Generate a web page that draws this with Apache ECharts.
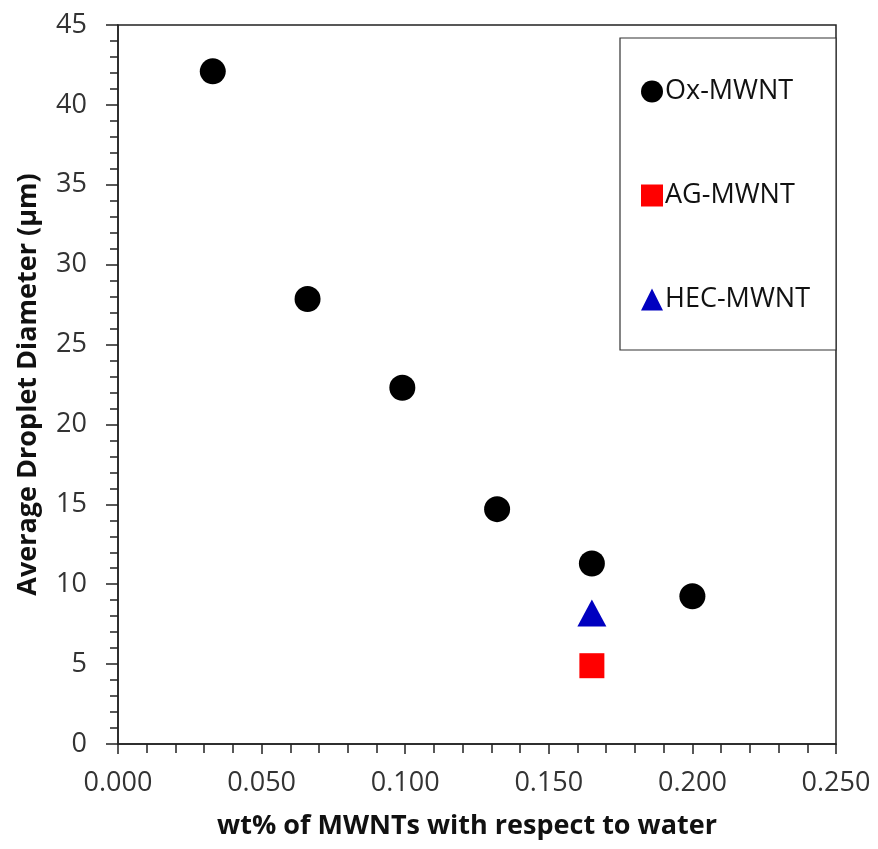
<!DOCTYPE html>
<html><head><meta charset="utf-8">
<script src="https://cdn.jsdelivr.net/npm/echarts@6/dist/echarts.min.js"></script>
<style>html,body{margin:0;padding:0;background:#fff}#c{width:878px;height:849px}</style>
</head><body><div id="c"></div>
<script>
const oxX = [0.033, 0.066, 0.099, 0.132, 0.165, 0.200];
const oxY = [42.1, 27.85, 22.3, 14.7, 11.3, 9.25];
const agX = [0.165];
const agY = [4.9];
const hecX = [0.165];
const hecY = [8.2];
const seriesNames = ['Ox-MWNT', 'AG-MWNT', 'HEC-MWNT'];
const xTicks = ['0.000','0.050','0.100','0.150','0.200','0.250'];

const pairs = (xs, ys) => xs.map((x, i) => [x, ys[i]]);
const FONT = '"Open Sans", "Noto Sans", sans-serif';
const chart = echarts.init(document.getElementById('c'));
chart.setOption({
  animation: false,
  backgroundColor: '#fff',
  grid: { left: 118, right: 42, top: 25, bottom: 105, show: true, borderColor: '#222', borderWidth: 1.5, backgroundColor: 'transparent' },
  xAxis: {
    type: 'value', min: 0, max: 0.25, interval: 0.05,
    name: 'wt% of MWNTs with respect to water', nameLocation: 'middle', nameGap: 69,
    nameTextStyle: { fontFamily: FONT, fontSize: 27, fontWeight: 'bold', color: '#111', padding: [0, 20, 0, 0] },
    axisLine: { show: true, lineStyle: { color: '#222', width: 1.5 } },
    axisTick: { show: true, inside: false, length: 10, lineStyle: { color: '#222', width: 1.5 } },
    minorTick: { show: true, splitNumber: 5, length: 9, lineStyle: { color: '#222', width: 1.5 } },
    splitLine: { show: false },
    axisLabel: { margin: 26, fontFamily: FONT, fontSize: 27, color: '#333',
      formatter: v => xTicks[Math.round(v / 0.05)] }
  },
  yAxis: {
    type: 'value', min: 0, max: 45, interval: 5,
    name: 'Average Droplet Diameter (μm)', nameLocation: 'middle', nameGap: 76,
    nameTextStyle: { fontFamily: FONT, fontSize: 27, fontWeight: 'bold', color: '#111' },
    axisLine: { show: true, lineStyle: { color: '#222', width: 1.5 } },
    axisTick: { show: true, inside: false, length: 12, lineStyle: { color: '#222', width: 1.5 } },
    minorTick: { show: true, splitNumber: 5, length: 8, lineStyle: { color: '#222', width: 1.5 } },
    splitLine: { show: false },
    axisLabel: { margin: 31, fontFamily: FONT, fontSize: 27, color: '#333' }
  },
  graphic: [{ type: 'rect', shape: { x: 620, y: 38, width: 216, height: 312 },
    style: { fill: '#fff', stroke: '#333', lineWidth: 1.2 }, z: 10 }],
  legend: {
    orient: 'vertical', left: 636, top: 73, itemGap: 77, itemWidth: 22, itemHeight: 22,
    z: 20,
    textStyle: { fontFamily: FONT, fontSize: 27, color: '#111', padding: [0, 0, 0, -3] },
    data: seriesNames
  },
  series: [
    { name: seriesNames[0], type: 'scatter', symbol: 'circle', symbolSize: 26,
      itemStyle: { color: '#000', opacity: 1 }, data: pairs(oxX, oxY) },
    { name: seriesNames[1], type: 'scatter', symbol: 'rect', symbolSize: 25,
      itemStyle: { color: '#ff0000', opacity: 1 }, data: pairs(agX, agY) },
    { name: seriesNames[2], type: 'scatter', symbol: 'triangle', symbolSize: [29, 27],
      itemStyle: { color: '#0000c0', opacity: 1 }, data: pairs(hecX, hecY) }
  ]
});
</script></body></html>
